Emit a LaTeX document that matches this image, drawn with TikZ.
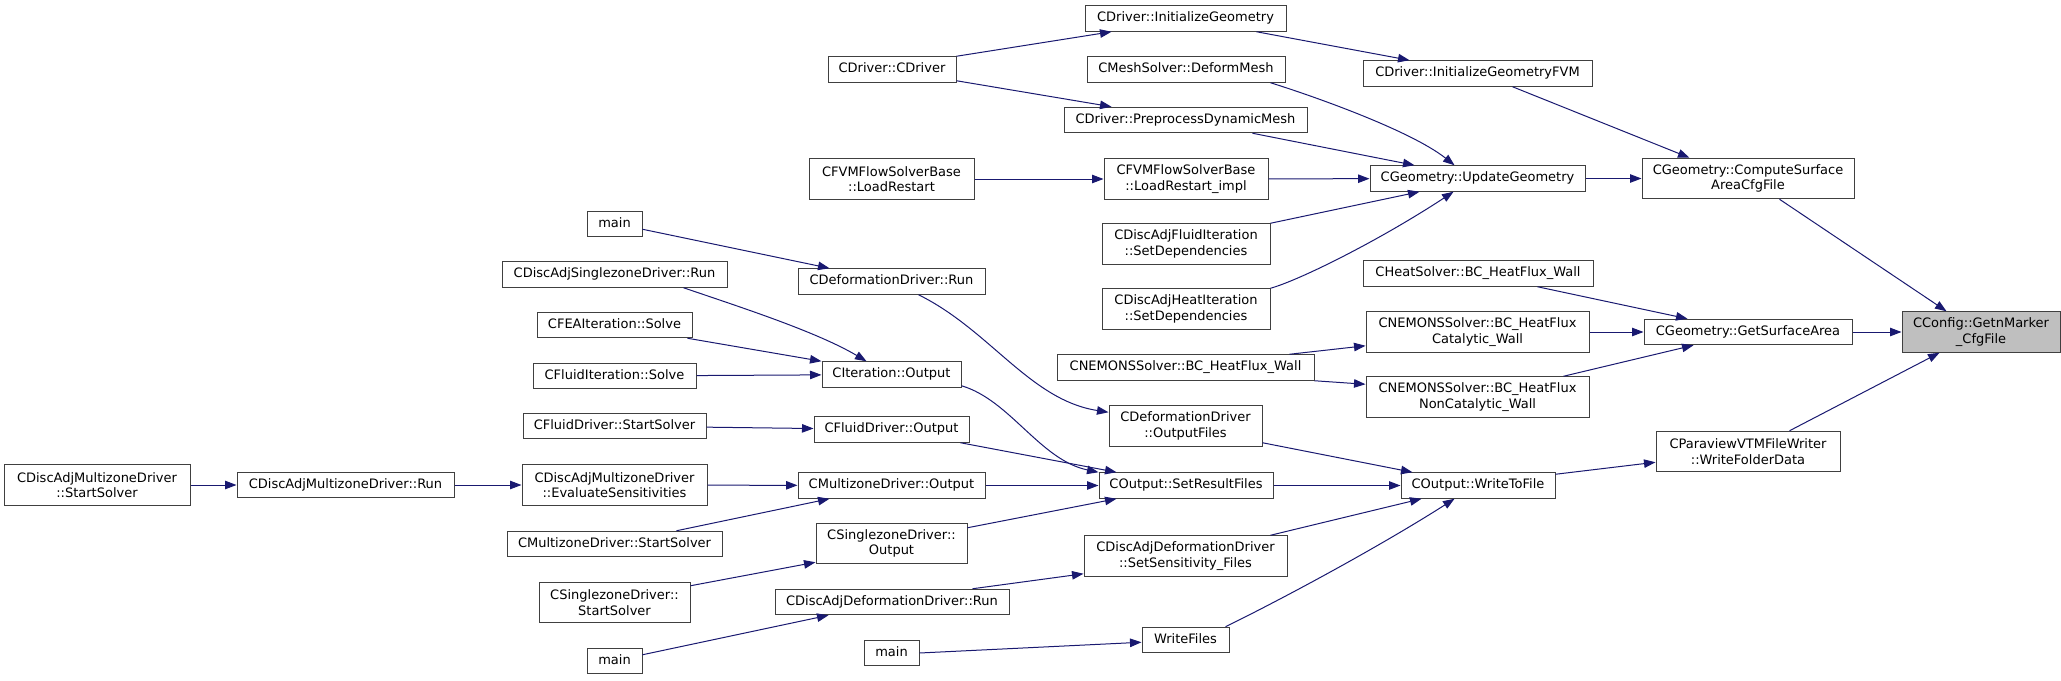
\documentclass[tikz,border=0pt]{standalone}
\usepackage{fontspec}
\setmainfont{DejaVu Sans}
\usetikzlibrary{arrows.meta}
\definecolor{edgeblue}{RGB}{25,25,112}
\definecolor{boxline}{RGB}{64,64,64}
\definecolor{boxgray}{RGB}{191,191,191}

\begin{document}
\begin{tikzpicture}[x=1pt, y=-1pt, >={Triangle[length=11.5pt,width=8.5pt]},
  fnbase/.style={draw=boxline, line width=1pt, fill=white, inner sep=0pt,
    font=\fontsize{13}{15.5}\selectfont},
  fn/.style={fnbase, minimum height=25.5pt, text height=9.5pt, text depth=3pt},
  fntwo/.style={fnbase, minimum height=40.5pt, align=center},
  calls/.style={->, draw=edgeblue, line width=1pt}]
  \useasboundingbox (0,0) rectangle (2061,680);

  % callees on the right
  \node[fntwo, minimum width=158, fill=boxgray] (cfg) at (1981,332) {CConfig::GetnMarker\\\_CfgFile};
  \node[fntwo, minimum width=212] (surfcfg) at (1748,178.5) {CGeometry::ComputeSurface\\AreaCfgFile};
  \node[fn, minimum width=208] (surfarea) at (1748,332) {CGeometry::GetSurfaceArea};
  \node[fntwo, minimum width=184] (paraview) at (1748,451.5) {CParaviewVTMFileWriter\\::WriteFolderData};

  \node[fn, minimum width=229] (fvm) at (1477.5,73.5) {CDriver::InitializeGeometryFVM};
  \node[fn, minimum width=215] (update) at (1477.5,178.5) {CGeometry::UpdateGeometry};
  \node[fn, minimum width=230] (heatbc) at (1478,273.5) {CHeatSolver::BC\_HeatFlux\_Wall};
  \node[fntwo, minimum width=223] (catwall) at (1477.5,332) {CNEMONSSolver::BC\_HeatFlux\\Catalytic\_Wall};
  \node[fntwo, minimum width=223] (noncat) at (1477.5,397) {CNEMONSSolver::BC\_HeatFlux\\NonCatalytic\_Wall};
  \node[fn, minimum width=154] (writefile) at (1478,485.5) {COutput::WriteToFile};

  \node[fn, minimum width=201] (drvinit) at (1185.5,18.5) {CDriver::InitializeGeometry};
  \node[fn, minimum width=198] (deform) at (1186,69.5) {CMeshSolver::DeformMesh};
  \node[fn, minimum width=243] (predyn) at (1185.5,120) {CDriver::PreprocessDynamicMesh};
  \node[fntwo, minimum width=164] (loadimpl) at (1186,179) {CFVMFlowSolverBase\\::LoadRestart\_impl};
  \node[fntwo, minimum width=168] (fluiddep) at (1186,244) {CDiscAdjFluidIteration\\::SetDependencies};
  \node[fntwo, minimum width=168] (heatdep) at (1186,309) {CDiscAdjHeatIteration\\::SetDependencies};
  \node[fn, minimum width=257] (nemowall) at (1185.5,367.5) {CNEMONSSolver::BC\_HeatFlux\_Wall};
  \node[fntwo, minimum width=153] (outfiles) at (1185.5,426) {CDeformationDriver\\::OutputFiles};
  \node[fn, minimum width=174] (setres) at (1186,485.5) {COutput::SetResultFiles};
  \node[fntwo, minimum width=203] (sensfiles) at (1185.5,556) {CDiscAdjDeformationDriver\\::SetSensitivity\_Files};
  \node[fn, minimum width=87] (writefiles) at (1185.5,640) {WriteFiles};

  \node[fn, minimum width=128] (drvctor) at (892,69.5) {CDriver::CDriver};
  \node[fntwo, minimum width=165] (loadrst) at (891.5,179) {CFVMFlowSolverBase\\::LoadRestart};
  \node[fn, minimum width=187] (deformrun) at (891.5,281.5) {CDeformationDriver::Run};
  \node[fn, minimum width=139] (iterout) at (891.5,374.5) {CIteration::Output};
  \node[fn, minimum width=155] (fluidout) at (891.5,429.5) {CFluidDriver::Output};
  \node[fn, minimum width=187] (multiout) at (891.5,485.5) {CMultizoneDriver::Output};
  \node[fntwo, minimum width=151] (singleout) at (891.5,543.5) {CSinglezoneDriver::\\Output};
  \node[fn, minimum width=234] (dadefrun) at (892,602) {CDiscAdjDeformationDriver::Run};
  \node[fn, minimum width=55] (mainc) at (891.5,653) {main};

  \node[fn, minimum width=55] (maina) at (614.5,224) {main};
  \node[fn, minimum width=225] (dasinglerun) at (614.5,274.5) {CDiscAdjSinglezoneDriver::Run};
  \node[fn, minimum width=155] (feasolve) at (614.5,325) {CFEAIteration::Solve};
  \node[fn, minimum width=163] (fluidsolve) at (614.5,376) {CFluidIteration::Solve};
  \node[fn, minimum width=183] (fluidstart) at (614.5,426) {CFluidDriver::StartSolver};
  \node[fntwo, minimum width=185] (evalsens) at (614.5,485) {CDiscAdjMultizoneDriver\\::EvaluateSensitivities};
  \node[fn, minimum width=215] (multistart) at (614.5,544) {CMultizoneDriver::StartSolver};
  \node[fntwo, minimum width=151] (singlestart) at (614.5,602.5) {CSinglezoneDriver::\\StartSolver};
  \node[fn, minimum width=55] (mainb) at (614.5,661) {main};

  \node[fn, minimum width=217] (darun) at (345.5,485) {CDiscAdjMultizoneDriver::Run};
  \node[fntwo, minimum width=186] (dastart) at (97,485) {CDiscAdjMultizoneDriver\\::StartSolver};

  % calls, caller -> callee
  \draw[calls] (drvctor.north east) -- ([xshift=27]drvinit.south west);
  \draw[calls] ([yshift=2]drvctor.south east) -- ([xshift=48]predyn.north west);
  \draw[calls] ([xshift=-30]drvinit.south east) -- ([xshift=47]fvm.north west);
  \draw[calls] ([xshift=-80]fvm.south east) -- ([xshift=48]surfcfg.north west);
  \draw[calls] ([xshift=-15]deform.south east) .. controls (1310,95) and (1410,130) .. ([xshift=85]update.north west);
  \draw[calls] ([xshift=-55]predyn.south east) -- ([xshift=45]update.north west);
  \draw[calls] (loadrst) -- (loadimpl);
  \draw[calls] (loadimpl) -- (update);
  \draw[calls] (fluiddep.north east) -- ([xshift=50]update.south west);
  \draw[calls] (heatdep.north east) .. controls (1300,280) and (1380,240) .. ([xshift=84]update.south west);
  \draw[calls] (update) -- (surfcfg);
  \draw[calls] ([xshift=-75]surfcfg.south east) -- ([xshift=45]cfg.north west);
  \draw[calls] ([xshift=-56]heatbc.south east) -- ([xshift=44]surfarea.north west);
  \draw[calls] (catwall) -- (surfarea);
  \draw[calls] ([xshift=-26]noncat.north east) -- ([xshift=50]surfarea.south west);
  \draw[calls] (surfarea) -- (cfg);
  \draw[calls] ([xshift=-51]paraview.north east) -- ([xshift=38]cfg.south west);
  \draw[calls] ([yshift=-2]writefile.north east) -- ([yshift=10]paraview.south west);
  \draw[calls] ([xshift=-25]nemowall.north east) -- ([yshift=7]catwall.south west);
  \draw[calls] (nemowall.south east) -- ([yshift=-8]noncat.north west);
  \draw[calls] ([yshift=8]maina.south east) -- ([xshift=32]deformrun.north west);
  \draw[calls] ([xshift=-44]dasinglerun.south east) .. controls (743,308) and (817,332) .. ([xshift=45]iterout.north west);
  \draw[calls] ([xshift=-5]feasolve.south east) -- (iterout.north west);
  \draw[calls] (fluidsolve) -- (iterout);
  \draw[calls] ([xshift=-67]deformrun.south east) .. controls (990,330) and (1030,400) .. ([yshift=-7]outfiles.north west);
  \draw[calls] ([yshift=2]iterout.south east) .. controls (1010,400) and (1040,460) .. (setres.north west);
  \draw[calls] (fluidstart) -- (fluidout);
  \draw[calls] ([xshift=-9]fluidout.south east) -- ([xshift=18]setres.north west);
  \draw[calls] (dastart) -- (darun);
  \draw[calls] (darun) -- (evalsens);
  \draw[calls] (evalsens) -- (multiout);
  \draw[calls] ([xshift=-46]multistart.north east) -- ([xshift=32]multiout.south west);
  \draw[calls] (multiout) -- (setres);
  \draw[calls] ([yshift=-4]singlestart.north east) -- ([yshift=2]singleout.south west);
  \draw[calls] ([yshift=-5]singleout.north east) -- ([xshift=18]setres.south west);
  \draw[calls] ([yshift=-7]mainb.north east) -- ([xshift=54]dadefrun.south west);
  \draw[calls] ([xshift=-37]dadefrun.north east) -- ([yshift=3]sensfiles.south west);
  \draw[calls] (mainc.east) -- ([yshift=11]writefiles.south west);
  \draw[calls] ([yshift=4]outfiles.south east) -- ([xshift=12]writefile.north west);
  \draw[calls] (setres) -- (writefile);
  \draw[calls] ([xshift=-17]sensfiles.north east) -- ([xshift=21]writefile.south west);
  \draw[calls] ([xshift=-4]writefiles.north east) .. controls (1300,590) and (1390,540) .. ([xshift=54]writefile.south west);
\end{tikzpicture}
\end{document}
